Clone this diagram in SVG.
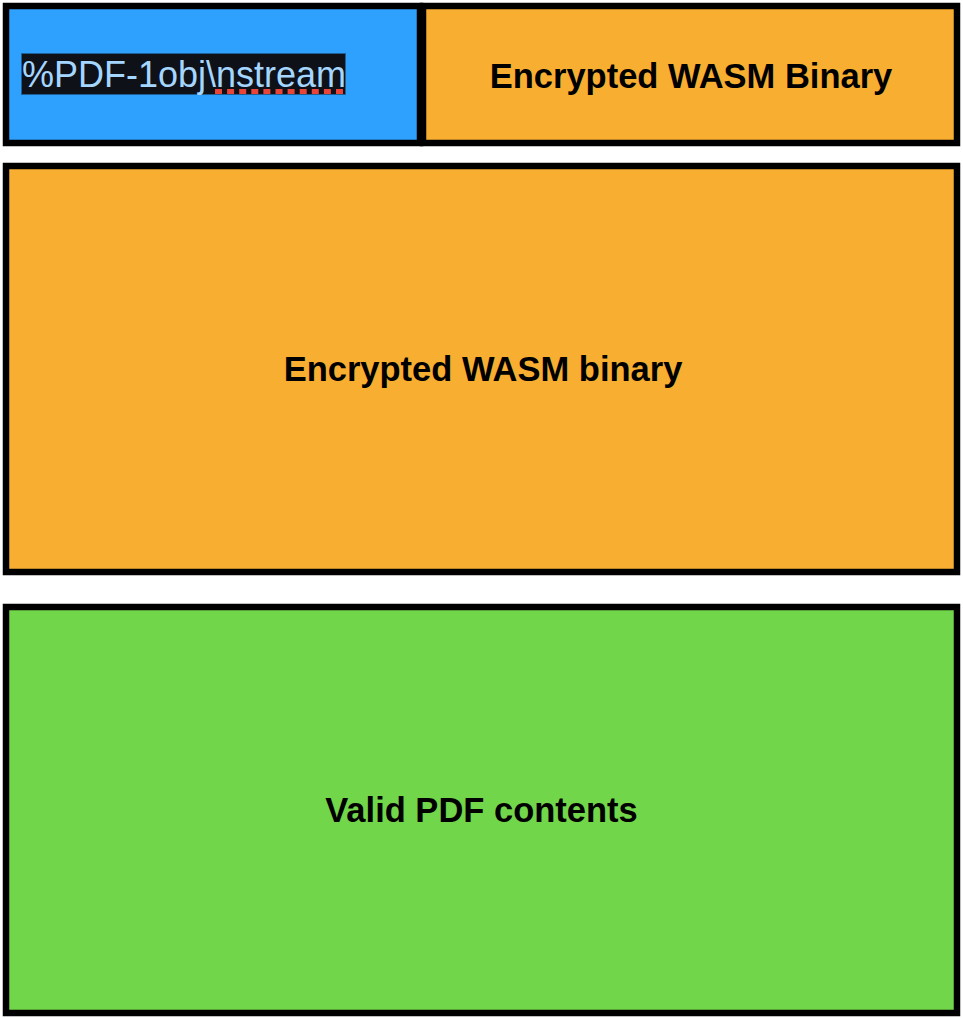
<svg xmlns="http://www.w3.org/2000/svg" width="963" height="1018" viewBox="0 0 963 1018">
<style>
.box{stroke:#000;stroke-width:6.5}
.lbl{font-family:"Liberation Sans",Arial,Helvetica,sans-serif;font-weight:bold;font-size:34.5px;fill:#000;text-anchor:middle}
.code{font-family:"Liberation Sans",Arial,Helvetica,sans-serif;font-size:36px;fill:#a5d6ff}
</style>
<rect width="963" height="1018" fill="#fff"/>
<g id="header">
<rect class="box" x="6" y="6" width="414" height="137" fill="#2ea1fe"/>
<rect x="21.5" y="53.5" width="324" height="41" fill="#0e1118" stroke="#1f5f96" stroke-width="1"/>
<text class="code" x="22" y="87">%PDF-1obj\nstream</text>
<line x1="215" y1="91.5" x2="344" y2="91.5" stroke="#e8443a" stroke-width="5" stroke-dasharray="7 5.1"/>
</g>
<g id="wasm-top">
<rect class="box" x="423" y="6" width="534" height="137" fill="#f8ae30"/>
<text class="lbl" x="691" y="88">Encrypted WASM Binary</text>
</g>
<g id="wasm-body">
<rect class="box" x="6" y="166" width="951" height="406" fill="#f8ae30"/>
<text class="lbl" x="483" y="381">Encrypted WASM binary</text>
</g>
<g id="pdf">
<rect class="box" x="6" y="607" width="951" height="406" fill="#71d649"/>
<text class="lbl" x="481.5" y="822">Valid PDF contents</text>
</g>
<g id="connectors"/>
</svg>
